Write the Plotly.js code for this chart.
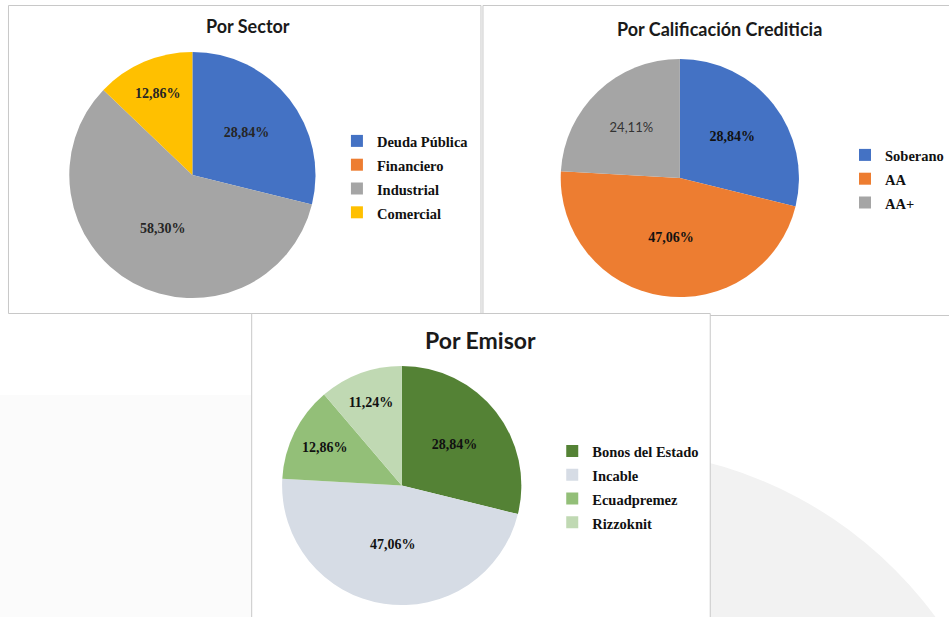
<!DOCTYPE html>
<html>
<head>
<meta charset="utf-8">
<script src="https://cdn.plot.ly/plotly-3.0.1.min.js"></script>
<style>html,body{margin:0;padding:0;background:#fff;}#chart{width:949px;height:617px;}</style>
</head>
<body>
<div id="chart"></div>
<script>
// ---- Data ----
var sectorLabels = ['Deuda Pública', 'Financiero', 'Industrial', 'Comercial'];
var sectorValues = [28.84, 0, 58.30, 12.86];
var sectorColors = ['#4472C4', '#ED7D31', '#A5A5A5', '#FFC000'];

var califLabels = ['Soberano', 'AA', 'AA+'];
var califValues = [28.84, 47.06, 24.11];
var califColors = ['#4472C4', '#ED7D31', '#A5A5A5'];

var emisorLabels = ['Bonos del Estado', 'Incable', 'Ecuadpremez', 'Rizzoknit'];
var emisorValues = [28.84, 47.06, 12.86, 11.24];
var emisorColors = ['#548235', '#D6DCE5', '#93BF78', '#C0D9B3'];

var titles = ['Por Sector', 'Por Calificación Crediticia', 'Por Emisor'];

// ---- Helpers ----
var W = 949, H = 617;
function px(x) { return x / W; }
function py(y) { return 1 - y / H; }
function fmt(v) { return v.toFixed(2).replace('.', ',') + '%'; }
function boldText(vals) { return vals.map(function (v) { return v > 0 ? '<b>' + fmt(v) + '</b>' : ''; }); }
function legendLabels(arr) { return arr.map(function (s) { return '<span style="font-size:14.5px">' + s + '</span>'; }); }
function domainFor(cx, cy, r) {
  return { x: [px(cx - r), px(cx + r)], y: [py(cy + r), py(cy - r)] };
}

var serif = 'Liberation Serif, Times New Roman, serif';
var sans = 'Lato, Carlito, Calibri, sans-serif';

var common = {
  type: 'pie', sort: false, direction: 'clockwise', rotation: 0,
  textinfo: 'text', textposition: 'inside', insidetextorientation: 'horizontal',
  hoverinfo: 'label+percent'
};

var t1 = Object.assign({}, common, {
  labels: legendLabels(sectorLabels), values: sectorValues,
  marker: { colors: sectorColors, line: { width: 0 } },
  text: boldText(sectorValues),
  textfont: { family: serif, size: 14, color: '#262626' },
  domain: domainFor(193, 175, 123.5), legend: 'legend'
});

var califText = califValues.map(function (v, i) { return i === 2 ? fmt(v) : '<b>' + fmt(v) + '</b>'; });
var t2 = Object.assign({}, common, {
  labels: legendLabels(califLabels), values: califValues,
  marker: { colors: califColors, line: { width: 0 } },
  text: califText,
  textfont: { family: [serif, serif, sans], size: [14, 14, 13], color: ['#111', '#111', '#333'] },
  domain: domainFor(682, 178, 119.5), legend: 'legend2'
});

var t3 = Object.assign({}, common, {
  labels: legendLabels(emisorLabels), values: emisorValues,
  marker: { colors: emisorColors, line: { width: 0 } },
  text: boldText(emisorValues),
  textfont: { family: serif, size: 14, color: '#111' },
  domain: domainFor(403, 485.5, 120), legend: 'legend3'
});

function legendAt(textX, firstRowY) {
  return {
    x: px(textX - 40), y: py(firstRowY - 18), xanchor: 'left', yanchor: 'top',
    font: { family: serif, size: 16, color: '#111', weight: 'bold' },
    bgcolor: 'rgba(0,0,0,0)', borderwidth: 0, orientation: 'v', traceorder: 'normal'
  };
}

function rect(x0, y0, x1, y1, fill, line) {
  return { type: 'rect', xref: 'paper', yref: 'paper', layer: 'below',
    x0: px(x0), x1: px(x1), y0: py(y1), y1: py(y0),
    fillcolor: fill, line: { color: line || 'rgba(0,0,0,0)', width: line ? 1 : 0 } };
}

var shapes = [
  rect(0, 395, 252, 617, '#FBFBFB'),
  { type: 'circle', xref: 'paper', yref: 'paper', layer: 'below',
    x0: px(193), x1: px(1019), y0: py(1275), y1: py(449),
    fillcolor: '#F2F2F2', line: { width: 0 } },
  rect(8.5, 5.5, 482.5, 313.5, '#FFFFFF', '#C8C8C8'),
  rect(484.5, 5.5, 960, 315.5, '#FFFFFF', '#C8C8C8'),
  rect(252.5, 313.5, 712.5, 640, '#FFFFFF', '#C8C8C8')
];

function titleAnn(text, x, y, size) {
  return { text: '<b>' + text + '</b>', x: px(x), y: py(y), xref: 'paper', yref: 'paper',
    xanchor: 'center', yanchor: 'middle', showarrow: false,
    font: { family: sans, size: size, color: '#1a1a1a' } };
}

var layout = {
  width: W, height: H,
  margin: { l: 0, r: 0, t: 0, b: 0 },
  paper_bgcolor: '#FFFFFF',
  showlegend: true,
  legend: legendAt(378, 142),
  legend2: legendAt(888, 156),
  legend3: legendAt(594, 452),
  shapes: shapes,
  annotations: [
    titleAnn(titles[0], 249, 26, 18),
    titleAnn(titles[1], 722, 29, 18),
    titleAnn(titles[2], 482, 340, 23)
  ]
};

Plotly.newPlot('chart', [t1, t2, t3], layout, { displayModeBar: false, staticPlot: true });
</script>
</body>
</html>
